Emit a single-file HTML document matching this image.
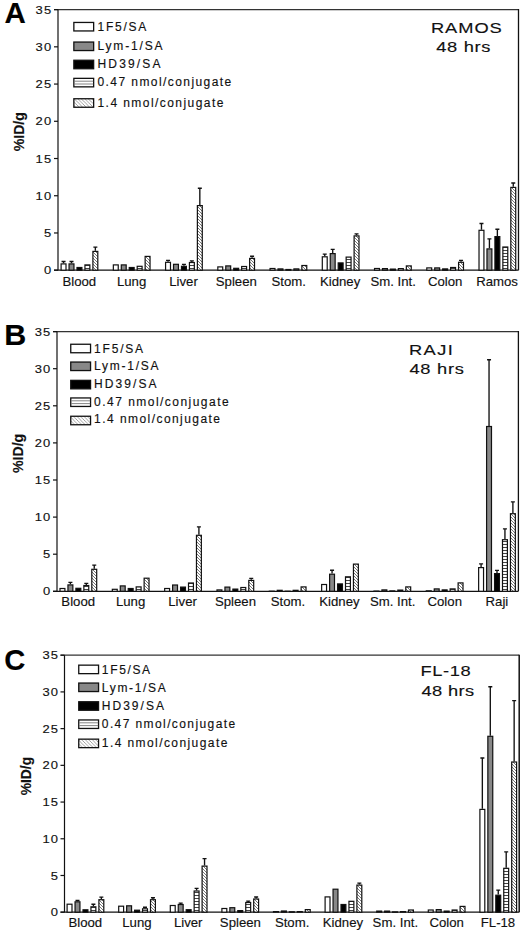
<!DOCTYPE html><html><head><meta charset="utf-8"><style>html,body{margin:0;padding:0;background:#fff;}svg{display:block;}</style></head><body>
<svg width="520" height="931" viewBox="0 0 520 931">
<style>text{stroke:#111;stroke-width:0.15px;}</style>
<defs>
<pattern id="hs" patternUnits="userSpaceOnUse" width="6" height="3"><rect width="6" height="3" fill="#fff"/><rect y="1" width="6" height="1" fill="#444"/></pattern>
<pattern id="dh" patternUnits="userSpaceOnUse" width="3" height="3"><rect width="3" height="3" fill="#fff"/><path d="M-1,-1 L4,4 M-1,2 L1,4 M2,-1 L4,1" stroke="#555" stroke-width="0.8"/></pattern>
<pattern id="dh2" patternUnits="userSpaceOnUse" width="3.5" height="3.5"><rect width="3.5" height="3.5" fill="#fff"/><path d="M-1,-1 L4.5,4.5 M-1,2.5 L1,4.5 M2.5,-1 L4.5,1" stroke="#777" stroke-width="0.7"/></pattern>
</defs>
<rect width="520" height="931" fill="#fff"/>
<text transform="translate(4.47,23.40) scale(0.9838,1)" font-family='"Liberation Sans", sans-serif' font-size="30" font-weight="bold" fill="#000">A</text>
<path d="M54,9.6 H518.5" stroke="#333" stroke-width="1.3" fill="none"/>
<path d="M518.5,9.1 V270.2" stroke="#111" stroke-width="1.3" fill="none"/>
<path d="M58,9.6 V270.2" stroke="#111" stroke-width="1.2" fill="none"/>
<path d="M54,270.2 H518.5" stroke="#111" stroke-width="1.2" fill="none"/>
<path d="M54,270.2 H58" stroke="#111" stroke-width="1.2"/>
<text transform="translate(43.89,274.30) scale(1.1000,1)" font-family='"Liberation Sans", sans-serif' font-size="11.8" letter-spacing="1.0" fill="#111">0</text>
<path d="M54,232.97 H58" stroke="#111" stroke-width="1.2"/>
<text transform="translate(43.93,237.07) scale(1.1000,1)" font-family='"Liberation Sans", sans-serif' font-size="11.8" letter-spacing="1.0" fill="#111">5</text>
<path d="M54,195.74 H58" stroke="#111" stroke-width="1.2"/>
<text transform="translate(35.57,199.84) scale(1.1000,1)" font-family='"Liberation Sans", sans-serif' font-size="11.8" letter-spacing="1.0" fill="#111">10</text>
<path d="M54,158.51 H58" stroke="#111" stroke-width="1.2"/>
<text transform="translate(35.61,162.61) scale(1.1000,1)" font-family='"Liberation Sans", sans-serif' font-size="11.8" letter-spacing="1.0" fill="#111">15</text>
<path d="M54,121.29 H58" stroke="#111" stroke-width="1.2"/>
<text transform="translate(35.57,125.39) scale(1.1000,1)" font-family='"Liberation Sans", sans-serif' font-size="11.8" letter-spacing="1.0" fill="#111">20</text>
<path d="M54,84.06 H58" stroke="#111" stroke-width="1.2"/>
<text transform="translate(35.61,88.16) scale(1.1000,1)" font-family='"Liberation Sans", sans-serif' font-size="11.8" letter-spacing="1.0" fill="#111">25</text>
<path d="M54,46.83 H58" stroke="#111" stroke-width="1.2"/>
<text transform="translate(35.57,50.93) scale(1.1000,1)" font-family='"Liberation Sans", sans-serif' font-size="11.8" letter-spacing="1.0" fill="#111">30</text>
<path d="M54,9.6 H58" stroke="#111" stroke-width="1.2"/>
<text transform="translate(35.61,13.70) scale(1.1000,1)" font-family='"Liberation Sans", sans-serif' font-size="11.8" letter-spacing="1.0" fill="#111">35</text>
<text transform="translate(23.85,151.35) rotate(-90)" font-family='"Liberation Sans", sans-serif' font-weight="bold" font-size="14.15" fill="#111">%ID/g</text>
<rect x="73.85" y="22.45" width="19.8" height="8.5" fill="#ffffff" stroke="#111" stroke-width="1.3"/>
<rect x="73.85" y="42.05" width="19.8" height="8.5" fill="#888888" stroke="#111" stroke-width="1.3"/>
<rect x="73.85" y="60.25" width="19.8" height="8.5" fill="#000000" stroke="#111" stroke-width="1.3"/>
<rect x="73.85" y="78.35" width="19.8" height="8.5" fill="#ffffff" stroke="#111" stroke-width="1.3"/>
<path d="M74.2,81.2 H93.3" stroke="#777" stroke-width="0.9"/>
<path d="M74.2,84 H93.3" stroke="#777" stroke-width="0.9"/>
<rect x="73.85" y="98.75" width="19.8" height="8.5" fill="url(#dh2)" stroke="#111" stroke-width="1.3"/>
<text transform="translate(97.50,31.00) scale(1.0000,1)" font-family='"Liberation Sans", sans-serif' font-size="12" letter-spacing="1.741" fill="#111">1F5/SA</text>
<text transform="translate(97.50,49.70) scale(1.0000,1)" font-family='"Liberation Sans", sans-serif' font-size="12" letter-spacing="1.820" fill="#111">Lym-1/SA</text>
<text transform="translate(97.50,68.40) scale(1.0000,1)" font-family='"Liberation Sans", sans-serif' font-size="12" letter-spacing="2.150" fill="#111">HD39/SA</text>
<text transform="translate(97.50,86.40) scale(1.0000,1)" font-family='"Liberation Sans", sans-serif' font-size="12" letter-spacing="1.425" fill="#111">0.47 nmol/conjugate</text>
<text transform="translate(97.50,106.80) scale(1.0000,1)" font-family='"Liberation Sans", sans-serif' font-size="12" letter-spacing="1.437" fill="#111">1.4 nmol/conjugate</text>
<text transform="translate(430.90,33.40) scale(1.1800,1)" font-family='"Liberation Sans", sans-serif' font-size="15.5" letter-spacing="0.820" fill="#111">RAMOS</text>
<text transform="translate(436.28,52.40) scale(1.1800,1)" font-family='"Liberation Sans", sans-serif' font-size="15.5" letter-spacing="0.550" fill="#111">48 hrs</text>
<path d="M63.55,263.3 V261.5 M61.55,261.5 H65.55" stroke="#111" stroke-width="1.35" fill="none"/>
<rect x="61.1" y="263.9" width="4.9" height="6.3" fill="#ffffff" stroke="#111" stroke-width="1.2"/>
<path d="M71.5,263.3 V261.5 M69.5,261.5 H73.5" stroke="#111" stroke-width="1.35" fill="none"/>
<rect x="69.05" y="263.9" width="4.9" height="6.3" fill="#888888" stroke="#111" stroke-width="1.2"/>
<rect x="77" y="267.5" width="4.9" height="2.7" fill="#000000" stroke="#111" stroke-width="1.2"/>
<rect x="84.95" y="264.9" width="4.9" height="5.3" fill="url(#hs)" stroke="#111" stroke-width="1.2"/>
<path d="M95.35,250.8 V247.1 M93.35,247.1 H97.35" stroke="#111" stroke-width="1.35" fill="none"/>
<rect x="92.9" y="251.4" width="4.9" height="18.8" fill="url(#dh)" stroke="#111" stroke-width="1.2"/>
<text transform="translate(62.45,286.00) scale(1.0000,1)" font-family='"Liberation Sans", sans-serif' font-size="13.2" fill="#111">Blood</text>
<rect x="113.34" y="264.9" width="4.9" height="5.3" fill="#ffffff" stroke="#111" stroke-width="1.2"/>
<rect x="121.29" y="264.9" width="4.9" height="5.3" fill="#888888" stroke="#111" stroke-width="1.2"/>
<rect x="129.24" y="267.5" width="4.9" height="2.7" fill="#000000" stroke="#111" stroke-width="1.2"/>
<rect x="137.19" y="266.3" width="4.9" height="3.9" fill="url(#hs)" stroke="#111" stroke-width="1.2"/>
<rect x="145.14" y="256.4" width="4.9" height="13.8" fill="url(#dh)" stroke="#111" stroke-width="1.2"/>
<text transform="translate(116.89,286.00) scale(1.0000,1)" font-family='"Liberation Sans", sans-serif' font-size="13.2" fill="#111">Lung</text>
<path d="M168.03,261.7 V260.3 M166.03,260.3 H170.03" stroke="#111" stroke-width="1.35" fill="none"/>
<rect x="165.58" y="262.3" width="4.9" height="7.9" fill="#ffffff" stroke="#111" stroke-width="1.2"/>
<rect x="173.53" y="264.3" width="4.9" height="5.9" fill="#888888" stroke="#111" stroke-width="1.2"/>
<path d="M183.93,265.7 V264.3 M181.93,264.3 H185.93" stroke="#111" stroke-width="1.35" fill="none"/>
<rect x="181.48" y="266.3" width="4.9" height="3.9" fill="#000000" stroke="#111" stroke-width="1.2"/>
<path d="M191.88,261.9 V260.9 M189.88,260.9 H193.88" stroke="#111" stroke-width="1.35" fill="none"/>
<rect x="189.43" y="262.5" width="4.9" height="7.7" fill="url(#hs)" stroke="#111" stroke-width="1.2"/>
<path d="M199.83,205 V188.2 M197.83,188.2 H201.83" stroke="#111" stroke-width="1.35" fill="none"/>
<rect x="197.38" y="205.6" width="4.9" height="64.6" fill="url(#dh)" stroke="#111" stroke-width="1.2"/>
<text transform="translate(169.19,286.00) scale(1.0000,1)" font-family='"Liberation Sans", sans-serif' font-size="13.2" fill="#111">Liver</text>
<rect x="217.82" y="266.9" width="4.9" height="3.3" fill="#ffffff" stroke="#111" stroke-width="1.2"/>
<rect x="225.77" y="265.9" width="4.9" height="4.3" fill="#888888" stroke="#111" stroke-width="1.2"/>
<rect x="233.72" y="268.3" width="4.9" height="1.9" fill="#000000" stroke="#111" stroke-width="1.2"/>
<rect x="241.67" y="266.5" width="4.9" height="3.7" fill="url(#hs)" stroke="#111" stroke-width="1.2"/>
<path d="M252.07,257.8 V256.2 M250.07,256.2 H254.07" stroke="#111" stroke-width="1.35" fill="none"/>
<rect x="249.62" y="258.4" width="4.9" height="11.8" fill="url(#dh)" stroke="#111" stroke-width="1.2"/>
<text transform="translate(215.75,286.00) scale(1.0000,1)" font-family='"Liberation Sans", sans-serif' font-size="13.2" fill="#111">Spleen</text>
<rect x="270.06" y="268.5" width="4.9" height="1.7" fill="#ffffff" stroke="#111" stroke-width="1.2"/>
<rect x="278.01" y="268.9" width="4.9" height="1.3" fill="#888888" stroke="#111" stroke-width="1.2"/>
<rect x="285.96" y="269.5" width="4.9" height="0.7" fill="#000000" stroke="#111" stroke-width="1.2"/>
<rect x="293.91" y="268.9" width="4.9" height="1.3" fill="url(#hs)" stroke="#111" stroke-width="1.2"/>
<rect x="301.86" y="265.5" width="4.9" height="4.7" fill="url(#dh)" stroke="#111" stroke-width="1.2"/>
<text transform="translate(271.47,286.00) scale(1.0000,1)" font-family='"Liberation Sans", sans-serif' font-size="13.2" fill="#111">Stom.</text>
<path d="M324.75,256.2 V254.1 M322.75,254.1 H326.75" stroke="#111" stroke-width="1.35" fill="none"/>
<rect x="322.3" y="256.8" width="4.9" height="13.4" fill="#ffffff" stroke="#111" stroke-width="1.2"/>
<path d="M332.7,253 V249.4 M330.7,249.4 H334.7" stroke="#111" stroke-width="1.35" fill="none"/>
<rect x="330.25" y="253.6" width="4.9" height="16.6" fill="#888888" stroke="#111" stroke-width="1.2"/>
<rect x="338.2" y="262.9" width="4.9" height="7.3" fill="#000000" stroke="#111" stroke-width="1.2"/>
<rect x="346.15" y="257.1" width="4.9" height="13.1" fill="url(#hs)" stroke="#111" stroke-width="1.2"/>
<path d="M356.55,235.3 V233.8 M354.55,233.8 H358.55" stroke="#111" stroke-width="1.35" fill="none"/>
<rect x="354.1" y="235.9" width="4.9" height="34.3" fill="url(#dh)" stroke="#111" stroke-width="1.2"/>
<text transform="translate(319.94,286.00) scale(1.0000,1)" font-family='"Liberation Sans", sans-serif' font-size="13.2" fill="#111">Kidney</text>
<rect x="374.54" y="268.5" width="4.9" height="1.7" fill="#ffffff" stroke="#111" stroke-width="1.2"/>
<rect x="382.49" y="268.6" width="4.9" height="1.6" fill="#888888" stroke="#111" stroke-width="1.2"/>
<rect x="390.44" y="269.1" width="4.9" height="1.1" fill="#000000" stroke="#111" stroke-width="1.2"/>
<rect x="398.39" y="268.6" width="4.9" height="1.6" fill="url(#hs)" stroke="#111" stroke-width="1.2"/>
<rect x="406.34" y="265.9" width="4.9" height="4.3" fill="url(#dh)" stroke="#111" stroke-width="1.2"/>
<text transform="translate(370.45,286.00) scale(1.0000,1)" font-family='"Liberation Sans", sans-serif' font-size="13.2" fill="#111">Sm. Int.</text>
<rect x="426.78" y="267.9" width="4.9" height="2.3" fill="#ffffff" stroke="#111" stroke-width="1.2"/>
<rect x="434.73" y="267.9" width="4.9" height="2.3" fill="#888888" stroke="#111" stroke-width="1.2"/>
<rect x="442.68" y="268.9" width="4.9" height="1.3" fill="#000000" stroke="#111" stroke-width="1.2"/>
<rect x="450.63" y="267.5" width="4.9" height="2.7" fill="url(#hs)" stroke="#111" stroke-width="1.2"/>
<path d="M461.03,261.7 V260.3 M459.03,260.3 H463.03" stroke="#111" stroke-width="1.35" fill="none"/>
<rect x="458.58" y="262.3" width="4.9" height="7.9" fill="url(#dh)" stroke="#111" stroke-width="1.2"/>
<text transform="translate(427.98,286.00) scale(1.0000,1)" font-family='"Liberation Sans", sans-serif' font-size="13.2" fill="#111">Colon</text>
<path d="M481.47,229.7 V223.5 M479.47,223.5 H483.47" stroke="#111" stroke-width="1.35" fill="none"/>
<rect x="479.02" y="230.3" width="4.9" height="39.9" fill="#ffffff" stroke="#111" stroke-width="1.2"/>
<path d="M489.42,248.3 V238.8 M487.42,238.8 H491.42" stroke="#111" stroke-width="1.35" fill="none"/>
<rect x="486.97" y="248.9" width="4.9" height="21.3" fill="#888888" stroke="#111" stroke-width="1.2"/>
<path d="M497.37,236 V229.2 M495.37,229.2 H499.37" stroke="#111" stroke-width="1.35" fill="none"/>
<rect x="494.92" y="236.6" width="4.9" height="33.6" fill="#000000" stroke="#111" stroke-width="1.2"/>
<rect x="502.87" y="247" width="4.9" height="23.2" fill="url(#hs)" stroke="#111" stroke-width="1.2"/>
<path d="M513.27,186.8 V183 M511.27,183 H515.27" stroke="#111" stroke-width="1.35" fill="none"/>
<rect x="510.82" y="187.4" width="4.9" height="82.8" fill="url(#dh)" stroke="#111" stroke-width="1.2"/>
<text transform="translate(476.16,286.00) scale(1.0000,1)" font-family='"Liberation Sans", sans-serif' font-size="13.2" fill="#111">Ramos</text>
<text transform="translate(4.26,345.20) scale(1.0166,1)" font-family='"Liberation Sans", sans-serif' font-size="30" font-weight="bold" fill="#000">B</text>
<path d="M53,331.6 H518.4" stroke="#333" stroke-width="1.3" fill="none"/>
<path d="M518.4,331.1 V591.3" stroke="#111" stroke-width="1.3" fill="none"/>
<path d="M57,331.6 V591.3" stroke="#111" stroke-width="1.2" fill="none"/>
<path d="M53,591.3 H518.4" stroke="#111" stroke-width="1.2" fill="none"/>
<path d="M53,591.3 H57" stroke="#111" stroke-width="1.2"/>
<text transform="translate(42.99,595.40) scale(1.1000,1)" font-family='"Liberation Sans", sans-serif' font-size="11.8" letter-spacing="1.0" fill="#111">0</text>
<path d="M53,554.2 H57" stroke="#111" stroke-width="1.2"/>
<text transform="translate(43.03,558.30) scale(1.1000,1)" font-family='"Liberation Sans", sans-serif' font-size="11.8" letter-spacing="1.0" fill="#111">5</text>
<path d="M53,517.1 H57" stroke="#111" stroke-width="1.2"/>
<text transform="translate(34.67,521.20) scale(1.1000,1)" font-family='"Liberation Sans", sans-serif' font-size="11.8" letter-spacing="1.0" fill="#111">10</text>
<path d="M53,480 H57" stroke="#111" stroke-width="1.2"/>
<text transform="translate(34.71,484.10) scale(1.1000,1)" font-family='"Liberation Sans", sans-serif' font-size="11.8" letter-spacing="1.0" fill="#111">15</text>
<path d="M53,442.9 H57" stroke="#111" stroke-width="1.2"/>
<text transform="translate(34.67,447.00) scale(1.1000,1)" font-family='"Liberation Sans", sans-serif' font-size="11.8" letter-spacing="1.0" fill="#111">20</text>
<path d="M53,405.8 H57" stroke="#111" stroke-width="1.2"/>
<text transform="translate(34.71,409.90) scale(1.1000,1)" font-family='"Liberation Sans", sans-serif' font-size="11.8" letter-spacing="1.0" fill="#111">25</text>
<path d="M53,368.7 H57" stroke="#111" stroke-width="1.2"/>
<text transform="translate(34.67,372.80) scale(1.1000,1)" font-family='"Liberation Sans", sans-serif' font-size="11.8" letter-spacing="1.0" fill="#111">30</text>
<path d="M53,331.6 H57" stroke="#111" stroke-width="1.2"/>
<text transform="translate(34.71,335.70) scale(1.1000,1)" font-family='"Liberation Sans", sans-serif' font-size="11.8" letter-spacing="1.0" fill="#111">35</text>
<text transform="translate(22.65,473.05) rotate(-90)" font-family='"Liberation Sans", sans-serif' font-weight="bold" font-size="14.15" fill="#111">%ID/g</text>
<rect x="70.75" y="344.25" width="19.8" height="8.5" fill="#ffffff" stroke="#111" stroke-width="1.3"/>
<rect x="70.75" y="362.05" width="19.8" height="8.5" fill="#888888" stroke="#111" stroke-width="1.3"/>
<rect x="70.75" y="380.35" width="19.8" height="8.5" fill="#000000" stroke="#111" stroke-width="1.3"/>
<rect x="70.75" y="397.95" width="19.8" height="8.5" fill="#ffffff" stroke="#111" stroke-width="1.3"/>
<path d="M71.1,400.8 H90.2" stroke="#777" stroke-width="0.9"/>
<path d="M71.1,403.6 H90.2" stroke="#777" stroke-width="0.9"/>
<rect x="70.75" y="416.25" width="19.8" height="8.5" fill="url(#dh2)" stroke="#111" stroke-width="1.3"/>
<text transform="translate(94.10,352.70) scale(1.0000,1)" font-family='"Liberation Sans", sans-serif' font-size="12" letter-spacing="1.801" fill="#111">1F5/SA</text>
<text transform="translate(94.10,370.00) scale(1.0000,1)" font-family='"Liberation Sans", sans-serif' font-size="12" letter-spacing="1.735" fill="#111">Lym-1/SA</text>
<text transform="translate(94.10,388.20) scale(1.0000,1)" font-family='"Liberation Sans", sans-serif' font-size="12" letter-spacing="2.084" fill="#111">HD39/SA</text>
<text transform="translate(94.10,405.50) scale(1.0000,1)" font-family='"Liberation Sans", sans-serif' font-size="12" letter-spacing="1.470" fill="#111">0.47 nmol/conjugate</text>
<text transform="translate(94.10,422.80) scale(1.0000,1)" font-family='"Liberation Sans", sans-serif' font-size="12" letter-spacing="1.443" fill="#111">1.4 nmol/conjugate</text>
<text transform="translate(409.00,354.70) scale(1.1800,1)" font-family='"Liberation Sans", sans-serif' font-size="15.5" letter-spacing="1.202" fill="#111">RAJI</text>
<text transform="translate(409.48,374.40) scale(1.1800,1)" font-family='"Liberation Sans", sans-serif' font-size="15.5" letter-spacing="0.601" fill="#111">48 hrs</text>
<rect x="60" y="588.5" width="4.9" height="2.8" fill="#ffffff" stroke="#111" stroke-width="1.2"/>
<path d="M70.4,584.3 V582.3 M68.4,582.3 H72.4" stroke="#111" stroke-width="1.35" fill="none"/>
<rect x="67.95" y="584.9" width="4.9" height="6.4" fill="#888888" stroke="#111" stroke-width="1.2"/>
<rect x="75.9" y="588.3" width="4.9" height="3" fill="#000000" stroke="#111" stroke-width="1.2"/>
<path d="M86.3,584.9 V583.3 M84.3,583.3 H88.3" stroke="#111" stroke-width="1.35" fill="none"/>
<rect x="83.85" y="585.5" width="4.9" height="5.8" fill="url(#hs)" stroke="#111" stroke-width="1.2"/>
<path d="M94.25,568.7 V565.1 M92.25,565.1 H96.25" stroke="#111" stroke-width="1.35" fill="none"/>
<rect x="91.8" y="569.3" width="4.9" height="22" fill="url(#dh)" stroke="#111" stroke-width="1.2"/>
<text transform="translate(61.35,606.00) scale(1.0000,1)" font-family='"Liberation Sans", sans-serif' font-size="13.2" fill="#111">Blood</text>
<rect x="112.33" y="589.3" width="4.9" height="2" fill="#ffffff" stroke="#111" stroke-width="1.2"/>
<rect x="120.28" y="585.9" width="4.9" height="5.4" fill="#888888" stroke="#111" stroke-width="1.2"/>
<rect x="128.23" y="588.5" width="4.9" height="2.8" fill="#000000" stroke="#111" stroke-width="1.2"/>
<rect x="136.18" y="586.9" width="4.9" height="4.4" fill="url(#hs)" stroke="#111" stroke-width="1.2"/>
<rect x="144.13" y="578.2" width="4.9" height="13.1" fill="url(#dh)" stroke="#111" stroke-width="1.2"/>
<text transform="translate(115.88,606.00) scale(1.0000,1)" font-family='"Liberation Sans", sans-serif' font-size="13.2" fill="#111">Lung</text>
<rect x="164.66" y="588.5" width="4.9" height="2.8" fill="#ffffff" stroke="#111" stroke-width="1.2"/>
<rect x="172.61" y="585" width="4.9" height="6.3" fill="#888888" stroke="#111" stroke-width="1.2"/>
<rect x="180.56" y="587.1" width="4.9" height="4.2" fill="#000000" stroke="#111" stroke-width="1.2"/>
<rect x="188.51" y="583" width="4.9" height="8.3" fill="url(#hs)" stroke="#111" stroke-width="1.2"/>
<path d="M198.91,534.7 V526.9 M196.91,526.9 H200.91" stroke="#111" stroke-width="1.35" fill="none"/>
<rect x="196.46" y="535.3" width="4.9" height="56" fill="url(#dh)" stroke="#111" stroke-width="1.2"/>
<text transform="translate(168.27,606.00) scale(1.0000,1)" font-family='"Liberation Sans", sans-serif' font-size="13.2" fill="#111">Liver</text>
<rect x="216.99" y="589.9" width="4.9" height="1.4" fill="#ffffff" stroke="#111" stroke-width="1.2"/>
<rect x="224.94" y="587.1" width="4.9" height="4.2" fill="#888888" stroke="#111" stroke-width="1.2"/>
<rect x="232.89" y="589.1" width="4.9" height="2.2" fill="#000000" stroke="#111" stroke-width="1.2"/>
<rect x="240.84" y="587.5" width="4.9" height="3.8" fill="url(#hs)" stroke="#111" stroke-width="1.2"/>
<path d="M251.24,579.8 V578.4 M249.24,578.4 H253.24" stroke="#111" stroke-width="1.35" fill="none"/>
<rect x="248.79" y="580.4" width="4.9" height="10.9" fill="url(#dh)" stroke="#111" stroke-width="1.2"/>
<text transform="translate(214.92,606.00) scale(1.0000,1)" font-family='"Liberation Sans", sans-serif' font-size="13.2" fill="#111">Spleen</text>
<rect x="269.32" y="591.2" width="4.9" height="0.1" fill="#ffffff" stroke="#111" stroke-width="1.2"/>
<rect x="277.27" y="590.3" width="4.9" height="1" fill="#888888" stroke="#111" stroke-width="1.2"/>
<rect x="285.22" y="591.2" width="4.9" height="0.1" fill="#000000" stroke="#111" stroke-width="1.2"/>
<rect x="293.17" y="590.3" width="4.9" height="1" fill="url(#hs)" stroke="#111" stroke-width="1.2"/>
<rect x="301.12" y="586.9" width="4.9" height="4.4" fill="url(#dh)" stroke="#111" stroke-width="1.2"/>
<text transform="translate(270.73,606.00) scale(1.0000,1)" font-family='"Liberation Sans", sans-serif' font-size="13.2" fill="#111">Stom.</text>
<rect x="321.65" y="584.5" width="4.9" height="6.8" fill="#ffffff" stroke="#111" stroke-width="1.2"/>
<path d="M332.05,573.6 V570.2 M330.05,570.2 H334.05" stroke="#111" stroke-width="1.35" fill="none"/>
<rect x="329.6" y="574.2" width="4.9" height="17.1" fill="#888888" stroke="#111" stroke-width="1.2"/>
<rect x="337.55" y="583.9" width="4.9" height="7.4" fill="#000000" stroke="#111" stroke-width="1.2"/>
<rect x="345.5" y="576.8" width="4.9" height="14.5" fill="url(#hs)" stroke="#111" stroke-width="1.2"/>
<rect x="353.45" y="564.1" width="4.9" height="27.2" fill="url(#dh)" stroke="#111" stroke-width="1.2"/>
<text transform="translate(319.29,606.00) scale(1.0000,1)" font-family='"Liberation Sans", sans-serif' font-size="13.2" fill="#111">Kidney</text>
<rect x="373.98" y="591.1" width="4.9" height="0.2" fill="#ffffff" stroke="#111" stroke-width="1.2"/>
<rect x="381.93" y="589.9" width="4.9" height="1.4" fill="#888888" stroke="#111" stroke-width="1.2"/>
<rect x="389.88" y="590.9" width="4.9" height="0.4" fill="#000000" stroke="#111" stroke-width="1.2"/>
<rect x="397.83" y="590.1" width="4.9" height="1.2" fill="url(#hs)" stroke="#111" stroke-width="1.2"/>
<rect x="405.78" y="586.9" width="4.9" height="4.4" fill="url(#dh)" stroke="#111" stroke-width="1.2"/>
<text transform="translate(369.89,606.00) scale(1.0000,1)" font-family='"Liberation Sans", sans-serif' font-size="13.2" fill="#111">Sm. Int.</text>
<rect x="426.31" y="590.8" width="4.9" height="0.5" fill="#ffffff" stroke="#111" stroke-width="1.2"/>
<rect x="434.26" y="588.9" width="4.9" height="2.4" fill="#888888" stroke="#111" stroke-width="1.2"/>
<rect x="442.21" y="589.9" width="4.9" height="1.4" fill="#000000" stroke="#111" stroke-width="1.2"/>
<rect x="450.16" y="588.9" width="4.9" height="2.4" fill="url(#hs)" stroke="#111" stroke-width="1.2"/>
<rect x="458.11" y="582.9" width="4.9" height="8.4" fill="url(#dh)" stroke="#111" stroke-width="1.2"/>
<text transform="translate(427.51,606.00) scale(1.0000,1)" font-family='"Liberation Sans", sans-serif' font-size="13.2" fill="#111">Colon</text>
<path d="M481.09,567 V563.9 M479.09,563.9 H483.09" stroke="#111" stroke-width="1.35" fill="none"/>
<rect x="478.64" y="567.6" width="4.9" height="23.7" fill="#ffffff" stroke="#111" stroke-width="1.2"/>
<path d="M489.04,425.9 V359.7 M487.04,359.7 H491.04" stroke="#111" stroke-width="1.35" fill="none"/>
<rect x="486.59" y="426.5" width="4.9" height="164.8" fill="#888888" stroke="#111" stroke-width="1.2"/>
<path d="M496.99,573 V570.4 M494.99,570.4 H498.99" stroke="#111" stroke-width="1.35" fill="none"/>
<rect x="494.54" y="573.6" width="4.9" height="17.7" fill="#000000" stroke="#111" stroke-width="1.2"/>
<path d="M504.94,539.1 V528.9 M502.94,528.9 H506.94" stroke="#111" stroke-width="1.35" fill="none"/>
<rect x="502.49" y="539.7" width="4.9" height="51.6" fill="url(#hs)" stroke="#111" stroke-width="1.2"/>
<path d="M512.89,513.1 V501.9 M510.89,501.9 H514.89" stroke="#111" stroke-width="1.35" fill="none"/>
<rect x="510.44" y="513.7" width="4.9" height="77.6" fill="url(#dh)" stroke="#111" stroke-width="1.2"/>
<text transform="translate(485.52,606.00) scale(1.0000,1)" font-family='"Liberation Sans", sans-serif' font-size="13.2" fill="#111">Raji</text>
<text transform="translate(4.30,670.40) scale(0.9738,1)" font-family='"Liberation Sans", sans-serif' font-size="30" font-weight="bold" fill="#000">C</text>
<path d="M60.5,655.2 H519.2" stroke="#333" stroke-width="1.3" fill="none"/>
<path d="M519.2,654.7 V912.2" stroke="#111" stroke-width="1.5" fill="none"/>
<path d="M64.5,655.2 V912.2" stroke="#111" stroke-width="1.2" fill="none"/>
<path d="M60.5,912.2 H519.2" stroke="#111" stroke-width="1.2" fill="none"/>
<path d="M60.5,912.2 H64.5" stroke="#111" stroke-width="1.2"/>
<text transform="translate(50.79,916.30) scale(1.1000,1)" font-family='"Liberation Sans", sans-serif' font-size="11.8" letter-spacing="1.0" fill="#111">0</text>
<path d="M60.5,875.49 H64.5" stroke="#111" stroke-width="1.2"/>
<text transform="translate(50.83,879.59) scale(1.1000,1)" font-family='"Liberation Sans", sans-serif' font-size="11.8" letter-spacing="1.0" fill="#111">5</text>
<path d="M60.5,838.77 H64.5" stroke="#111" stroke-width="1.2"/>
<text transform="translate(42.47,842.87) scale(1.1000,1)" font-family='"Liberation Sans", sans-serif' font-size="11.8" letter-spacing="1.0" fill="#111">10</text>
<path d="M60.5,802.06 H64.5" stroke="#111" stroke-width="1.2"/>
<text transform="translate(42.51,806.16) scale(1.1000,1)" font-family='"Liberation Sans", sans-serif' font-size="11.8" letter-spacing="1.0" fill="#111">15</text>
<path d="M60.5,765.34 H64.5" stroke="#111" stroke-width="1.2"/>
<text transform="translate(42.47,769.44) scale(1.1000,1)" font-family='"Liberation Sans", sans-serif' font-size="11.8" letter-spacing="1.0" fill="#111">20</text>
<path d="M60.5,728.63 H64.5" stroke="#111" stroke-width="1.2"/>
<text transform="translate(42.51,732.73) scale(1.1000,1)" font-family='"Liberation Sans", sans-serif' font-size="11.8" letter-spacing="1.0" fill="#111">25</text>
<path d="M60.5,691.91 H64.5" stroke="#111" stroke-width="1.2"/>
<text transform="translate(42.47,696.01) scale(1.1000,1)" font-family='"Liberation Sans", sans-serif' font-size="11.8" letter-spacing="1.0" fill="#111">30</text>
<path d="M60.5,655.2 H64.5" stroke="#111" stroke-width="1.2"/>
<text transform="translate(42.51,659.30) scale(1.1000,1)" font-family='"Liberation Sans", sans-serif' font-size="11.8" letter-spacing="1.0" fill="#111">35</text>
<text transform="translate(31.21,795.24) rotate(-90)" font-family='"Liberation Sans", sans-serif' font-weight="bold" font-size="13.81" fill="#111">%ID/g</text>
<rect x="78.75" y="665.15" width="19.8" height="8.5" fill="#ffffff" stroke="#111" stroke-width="1.3"/>
<rect x="78.75" y="683.05" width="19.8" height="8.5" fill="#888888" stroke="#111" stroke-width="1.3"/>
<rect x="78.75" y="701.75" width="19.8" height="8.5" fill="#000000" stroke="#111" stroke-width="1.3"/>
<rect x="78.75" y="719.95" width="19.8" height="8.5" fill="#ffffff" stroke="#111" stroke-width="1.3"/>
<path d="M79.1,722.8 H98.2" stroke="#777" stroke-width="0.9"/>
<path d="M79.1,725.6 H98.2" stroke="#777" stroke-width="0.9"/>
<rect x="78.75" y="739.15" width="19.8" height="8.5" fill="url(#dh2)" stroke="#111" stroke-width="1.3"/>
<text transform="translate(101.80,673.60) scale(1.0000,1)" font-family='"Liberation Sans", sans-serif' font-size="12" letter-spacing="1.661" fill="#111">1F5/SA</text>
<text transform="translate(101.80,691.70) scale(1.0000,1)" font-family='"Liberation Sans", sans-serif' font-size="12" letter-spacing="1.677" fill="#111">Lym-1/SA</text>
<text transform="translate(101.80,710.20) scale(1.0000,1)" font-family='"Liberation Sans", sans-serif' font-size="12" letter-spacing="2.017" fill="#111">HD39/SA</text>
<text transform="translate(101.80,728.40) scale(1.0000,1)" font-family='"Liberation Sans", sans-serif' font-size="12" letter-spacing="1.403" fill="#111">0.47 nmol/conjugate</text>
<text transform="translate(101.80,746.50) scale(1.0000,1)" font-family='"Liberation Sans", sans-serif' font-size="12" letter-spacing="1.419" fill="#111">1.4 nmol/conjugate</text>
<text transform="translate(420.40,676.40) scale(1.1800,1)" font-family='"Liberation Sans", sans-serif' font-size="15.5" letter-spacing="0.554" fill="#111">FL-18</text>
<text transform="translate(421.48,695.90) scale(1.1800,1)" font-family='"Liberation Sans", sans-serif' font-size="15.5" letter-spacing="0.313" fill="#111">48 hrs</text>
<rect x="67.1" y="904.2" width="4.9" height="8" fill="#ffffff" stroke="#111" stroke-width="1.2"/>
<path d="M77.5,901.2 V900.4 M75.5,900.4 H79.5" stroke="#111" stroke-width="1.35" fill="none"/>
<rect x="75.05" y="901.8" width="4.9" height="10.4" fill="#888888" stroke="#111" stroke-width="1.2"/>
<rect x="83" y="909.8" width="4.9" height="2.4" fill="#000000" stroke="#111" stroke-width="1.2"/>
<path d="M93.4,906.2 V904.2 M91.4,904.2 H95.4" stroke="#111" stroke-width="1.35" fill="none"/>
<rect x="90.95" y="906.8" width="4.9" height="5.4" fill="url(#hs)" stroke="#111" stroke-width="1.2"/>
<path d="M101.35,899.1 V897.1 M99.35,897.1 H103.35" stroke="#111" stroke-width="1.35" fill="none"/>
<rect x="98.9" y="899.7" width="4.9" height="12.5" fill="url(#dh)" stroke="#111" stroke-width="1.2"/>
<text transform="translate(68.45,927.30) scale(1.0000,1)" font-family='"Liberation Sans", sans-serif' font-size="13.2" fill="#111">Blood</text>
<rect x="118.7" y="906.2" width="4.9" height="6" fill="#ffffff" stroke="#111" stroke-width="1.2"/>
<rect x="126.65" y="905.8" width="4.9" height="6.4" fill="#888888" stroke="#111" stroke-width="1.2"/>
<rect x="134.6" y="910.2" width="4.9" height="2" fill="#000000" stroke="#111" stroke-width="1.2"/>
<path d="M145,908.2 V907.2 M143,907.2 H147" stroke="#111" stroke-width="1.35" fill="none"/>
<rect x="142.55" y="908.8" width="4.9" height="3.4" fill="url(#hs)" stroke="#111" stroke-width="1.2"/>
<path d="M152.95,899.1 V897.7 M150.95,897.7 H154.95" stroke="#111" stroke-width="1.35" fill="none"/>
<rect x="150.5" y="899.7" width="4.9" height="12.5" fill="url(#dh)" stroke="#111" stroke-width="1.2"/>
<text transform="translate(122.25,927.30) scale(1.0000,1)" font-family='"Liberation Sans", sans-serif' font-size="13.2" fill="#111">Lung</text>
<rect x="170.3" y="905.5" width="4.9" height="6.7" fill="#ffffff" stroke="#111" stroke-width="1.2"/>
<path d="M180.7,903.9 V903.1 M178.7,903.1 H182.7" stroke="#111" stroke-width="1.35" fill="none"/>
<rect x="178.25" y="904.5" width="4.9" height="7.7" fill="#888888" stroke="#111" stroke-width="1.2"/>
<rect x="186.2" y="909.7" width="4.9" height="2.5" fill="#000000" stroke="#111" stroke-width="1.2"/>
<path d="M196.6,890.4 V888.3 M194.6,888.3 H198.6" stroke="#111" stroke-width="1.35" fill="none"/>
<rect x="194.15" y="891" width="4.9" height="21.2" fill="url(#hs)" stroke="#111" stroke-width="1.2"/>
<path d="M204.55,865.5 V858.6 M202.55,858.6 H206.55" stroke="#111" stroke-width="1.35" fill="none"/>
<rect x="202.1" y="866.1" width="4.9" height="46.1" fill="url(#dh)" stroke="#111" stroke-width="1.2"/>
<text transform="translate(173.91,927.30) scale(1.0000,1)" font-family='"Liberation Sans", sans-serif' font-size="13.2" fill="#111">Liver</text>
<rect x="221.9" y="908.5" width="4.9" height="3.7" fill="#ffffff" stroke="#111" stroke-width="1.2"/>
<rect x="229.85" y="907.7" width="4.9" height="4.5" fill="#888888" stroke="#111" stroke-width="1.2"/>
<rect x="237.8" y="910.6" width="4.9" height="1.6" fill="#000000" stroke="#111" stroke-width="1.2"/>
<path d="M248.2,901.9 V901.1 M246.2,901.1 H250.2" stroke="#111" stroke-width="1.35" fill="none"/>
<rect x="245.75" y="902.5" width="4.9" height="9.7" fill="url(#hs)" stroke="#111" stroke-width="1.2"/>
<path d="M256.15,898.4 V897 M254.15,897 H258.15" stroke="#111" stroke-width="1.35" fill="none"/>
<rect x="253.7" y="899" width="4.9" height="13.2" fill="url(#dh)" stroke="#111" stroke-width="1.2"/>
<text transform="translate(219.83,927.30) scale(1.0000,1)" font-family='"Liberation Sans", sans-serif' font-size="13.2" fill="#111">Spleen</text>
<rect x="273.5" y="911.6" width="4.9" height="0.6" fill="#ffffff" stroke="#111" stroke-width="1.2"/>
<rect x="281.45" y="911" width="4.9" height="1.2" fill="#888888" stroke="#111" stroke-width="1.2"/>
<rect x="289.4" y="911.8" width="4.9" height="0.4" fill="#000000" stroke="#111" stroke-width="1.2"/>
<rect x="297.35" y="911.6" width="4.9" height="0.6" fill="url(#hs)" stroke="#111" stroke-width="1.2"/>
<rect x="305.3" y="909.6" width="4.9" height="2.6" fill="url(#dh)" stroke="#111" stroke-width="1.2"/>
<text transform="translate(274.91,927.30) scale(1.0000,1)" font-family='"Liberation Sans", sans-serif' font-size="13.2" fill="#111">Stom.</text>
<rect x="325.1" y="896.9" width="4.9" height="15.3" fill="#ffffff" stroke="#111" stroke-width="1.2"/>
<rect x="333.05" y="889.2" width="4.9" height="23" fill="#888888" stroke="#111" stroke-width="1.2"/>
<rect x="341" y="904.5" width="4.9" height="7.7" fill="#000000" stroke="#111" stroke-width="1.2"/>
<rect x="348.95" y="901.3" width="4.9" height="10.9" fill="url(#hs)" stroke="#111" stroke-width="1.2"/>
<path d="M359.35,884.5 V883.1 M357.35,883.1 H361.35" stroke="#111" stroke-width="1.35" fill="none"/>
<rect x="356.9" y="885.1" width="4.9" height="27.1" fill="url(#dh)" stroke="#111" stroke-width="1.2"/>
<text transform="translate(322.74,927.30) scale(1.0000,1)" font-family='"Liberation Sans", sans-serif' font-size="13.2" fill="#111">Kidney</text>
<rect x="376.7" y="911.1" width="4.9" height="1.1" fill="#ffffff" stroke="#111" stroke-width="1.2"/>
<rect x="384.65" y="911.1" width="4.9" height="1.1" fill="#888888" stroke="#111" stroke-width="1.2"/>
<rect x="392.6" y="911.9" width="4.9" height="0.3" fill="#000000" stroke="#111" stroke-width="1.2"/>
<rect x="400.55" y="911.6" width="4.9" height="0.6" fill="url(#hs)" stroke="#111" stroke-width="1.2"/>
<rect x="408.5" y="910" width="4.9" height="2.2" fill="url(#dh)" stroke="#111" stroke-width="1.2"/>
<text transform="translate(372.61,927.30) scale(1.0000,1)" font-family='"Liberation Sans", sans-serif' font-size="13.2" fill="#111">Sm. Int.</text>
<rect x="428.3" y="910" width="4.9" height="2.2" fill="#ffffff" stroke="#111" stroke-width="1.2"/>
<rect x="436.25" y="909.6" width="4.9" height="2.6" fill="#888888" stroke="#111" stroke-width="1.2"/>
<rect x="444.2" y="911.1" width="4.9" height="1.1" fill="#000000" stroke="#111" stroke-width="1.2"/>
<rect x="452.15" y="910" width="4.9" height="2.2" fill="url(#hs)" stroke="#111" stroke-width="1.2"/>
<rect x="460.1" y="906.4" width="4.9" height="5.8" fill="url(#dh)" stroke="#111" stroke-width="1.2"/>
<text transform="translate(429.50,927.30) scale(1.0000,1)" font-family='"Liberation Sans", sans-serif' font-size="13.2" fill="#111">Colon</text>
<path d="M482.35,808.8 V758 M480.35,758 H484.35" stroke="#111" stroke-width="1.35" fill="none"/>
<rect x="479.9" y="809.4" width="4.9" height="102.8" fill="#ffffff" stroke="#111" stroke-width="1.2"/>
<path d="M490.3,735.7 V686.7 M488.3,686.7 H492.3" stroke="#111" stroke-width="1.35" fill="none"/>
<rect x="487.85" y="736.3" width="4.9" height="175.9" fill="#888888" stroke="#111" stroke-width="1.2"/>
<path d="M498.25,894.6 V890.1 M496.25,890.1 H500.25" stroke="#111" stroke-width="1.35" fill="none"/>
<rect x="495.8" y="895.2" width="4.9" height="17" fill="#000000" stroke="#111" stroke-width="1.2"/>
<path d="M506.2,867.7 V851.8 M504.2,851.8 H508.2" stroke="#111" stroke-width="1.35" fill="none"/>
<rect x="503.75" y="868.3" width="4.9" height="43.9" fill="url(#hs)" stroke="#111" stroke-width="1.2"/>
<path d="M514.15,761.4 V700.6 M512.15,700.6 H516.15" stroke="#111" stroke-width="1.35" fill="none"/>
<rect x="511.7" y="762" width="4.9" height="150.2" fill="url(#dh)" stroke="#111" stroke-width="1.2"/>
<text transform="translate(480.75,927.30) scale(1.0000,1)" font-family='"Liberation Sans", sans-serif' font-size="13.2" fill="#111">FL-18</text>
</svg></body></html>
